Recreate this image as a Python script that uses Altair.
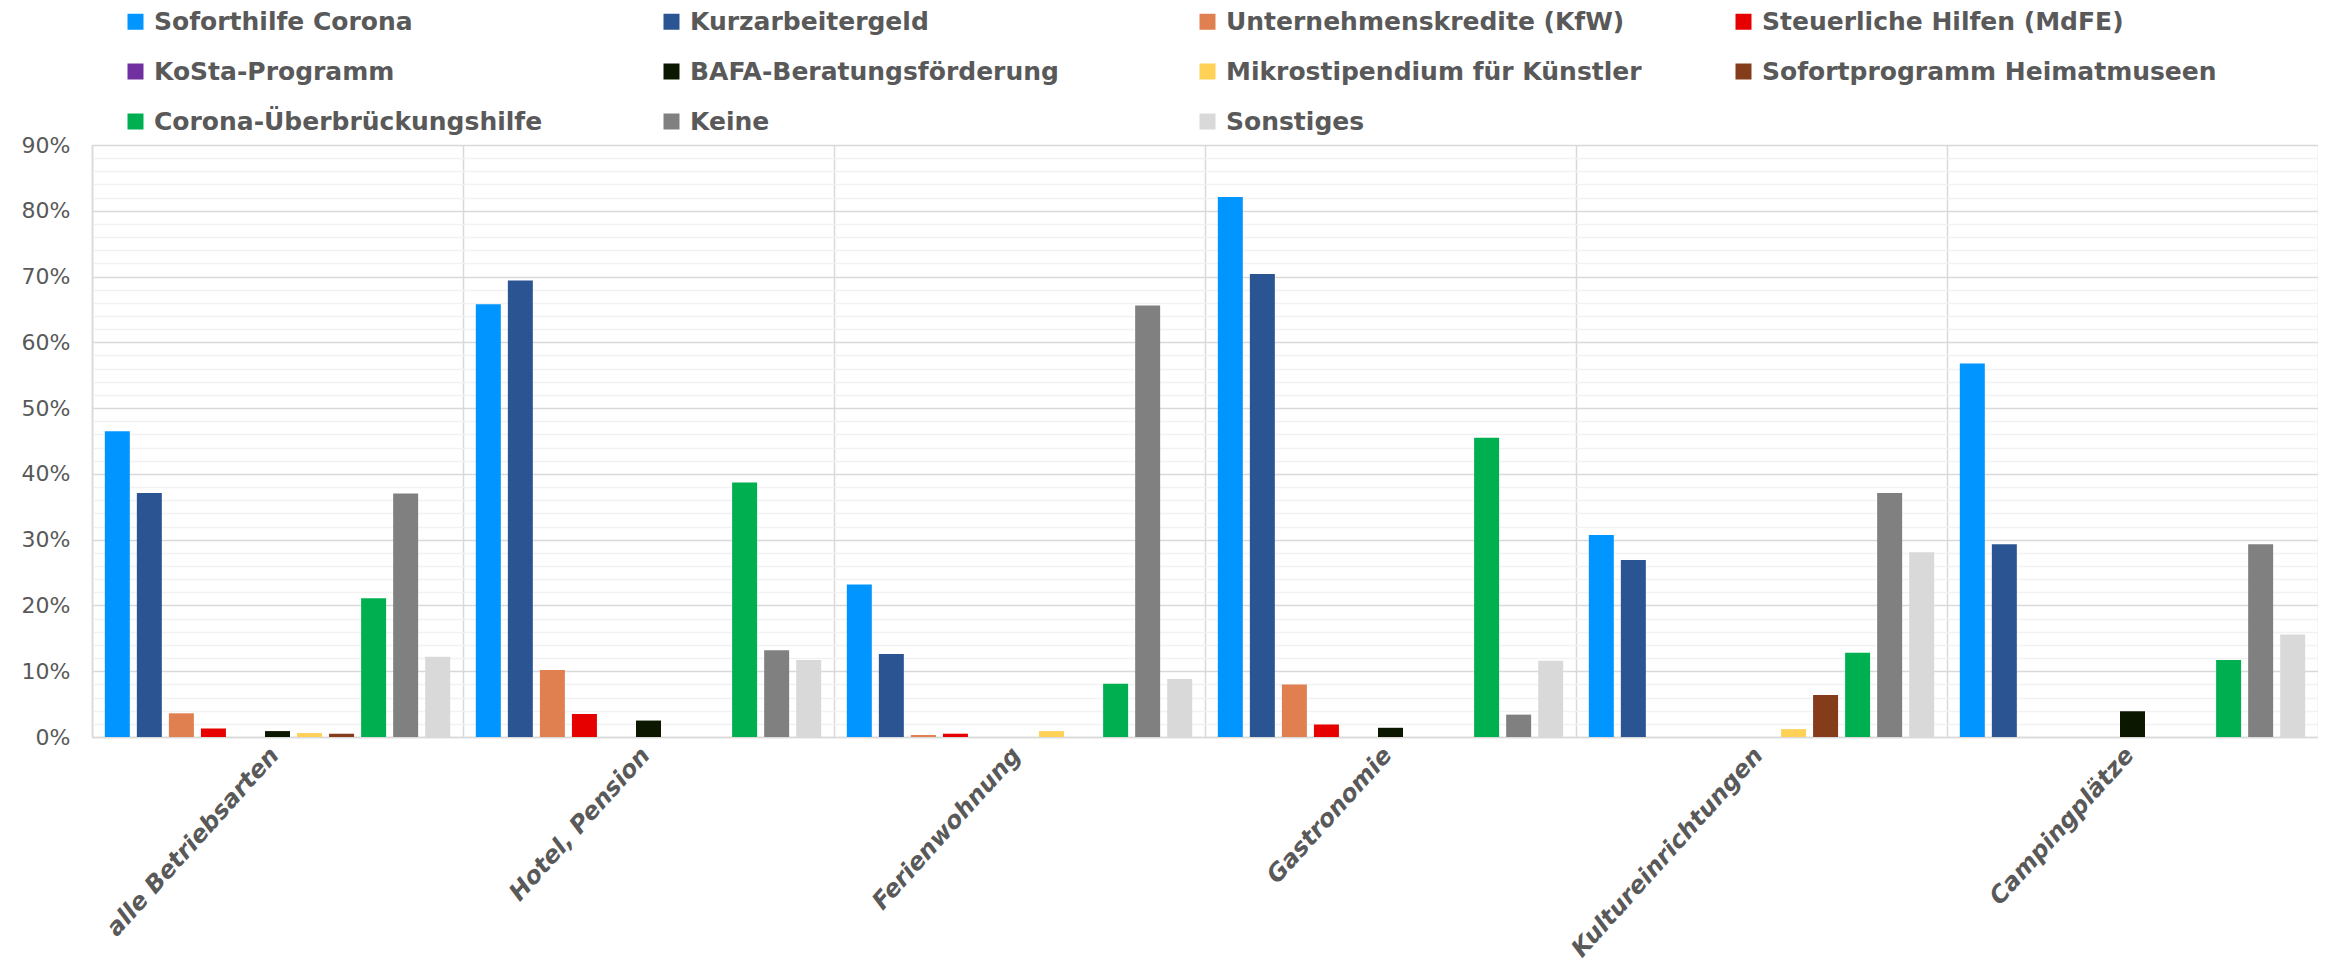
import altair as alt
import pandas as pd

categories = ["alle Betriebsarten", "Hotel, Pension", "Ferienwohnung",
              "Gastronomie", "Kultureinrichtungen", "Campingplätze"]

series = ["Soforthilfe Corona", "Kurzarbeitergeld", "Unternehmenskredite (KfW)",
          "Steuerliche Hilfen (MdFE)", "KoSta-Programm", "BAFA-Beratungsförderung",
          "Mikrostipendium für Künstler", "Sofortprogramm Heimatmuseen",
          "Corona-Überbrückungshilfe", "Keine", "Sonstiges"]

colors = ["#0095FF", "#2A5592", "#E07F50", "#E60000", "#7030A0", "#0C1700",
          "#FFD157", "#843C1A", "#00B050", "#808080", "#D9D9D9"]

# values in percent, one list per series (order = categories)
soforthilfe = [46.5, 65.8, 23.2, 82.1, 30.7, 56.8]
kurzarbeitergeld = [37.1, 69.4, 12.6, 70.4, 26.9, 29.3]
kfw = [3.6, 10.2, 0.3, 8.0, 0.0, 0.0]
mdfe = [1.3, 3.5, 0.5, 1.9, 0.0, 0.0]
kosta = [0.0, 0.0, 0.0, 0.0, 0.0, 0.0]
bafa = [0.9, 2.5, 0.0, 1.4, 0.0, 3.9]
mikro = [0.6, 0.0, 0.9, 0.0, 1.2, 0.0]
heimat = [0.5, 0.0, 0.0, 0.0, 6.4, 0.0]
ueberbrueckung = [21.1, 38.7, 8.1, 45.5, 12.8, 11.7]
keine = [37.0, 13.2, 65.6, 3.4, 37.1, 29.3]
sonstiges = [12.2, 11.7, 8.8, 11.6, 28.1, 15.6]

values_by_series = [soforthilfe, kurzarbeitergeld, kfw, mdfe, kosta, bafa,
                    mikro, heimat, ueberbrueckung, keine, sonstiges]

y_ticks = list(range(0, 91, 2))

rows = []
for s, vals in zip(series, values_by_series):
    for c, v in zip(categories, vals):
        rows.append({"Betriebsart": c, "Hilfe": s, "Anteil": v})
df = pd.DataFrame(rows)

TEXT = "#595959"
GRID = "#D9D9D9"
FONT = "DejaVu Sans"

chart = alt.Chart(df).mark_bar().encode(
    x=alt.X("Betriebsart:N", sort=categories,
            scale=alt.Scale(paddingInner=0, paddingOuter=0),
            axis=alt.Axis(title=None, tickBand="extent", grid=True,
                          gridColor=GRID, gridWidth=1.5, ticks=False,
                          domainColor=GRID, domainWidth=1.5,
                          labelAngle=-48, labelAlign="right", labelBaseline="top",
                          labelPadding=6, labelOffset=-12, labelFont=FONT,
                          labelFontSize=24, labelFontWeight="bold",
                          labelFontStyle="italic", labelColor=TEXT, labelLimit=600)),
    xOffset=alt.XOffset("Hilfe:N", sort=series,
                        scale=alt.Scale(paddingInner=0.22, paddingOuter=0.4)),
    y=alt.Y("Anteil:Q", scale=alt.Scale(domain=[0, 90], nice=False),
            axis=alt.Axis(title=None, values=y_ticks, ticks=False,
                          labelExpr="datum.value % 10 === 0 ? datum.value + '%' : ''",
                          labelOverlap=False,
                          gridColor={"condition": {"test": "datum.value % 10 === 0", "value": GRID},
                                     "value": "#F2F2F2"},
                          gridWidth=1.3,
                          domainColor=GRID, domainWidth=1.5,
                          labelPadding=22, labelFont=FONT, labelFontSize=22,
                          labelColor=TEXT)),
    color=alt.Color("Hilfe:N", sort=series,
                    scale=alt.Scale(domain=series, range=colors),
                    legend=alt.Legend(title=None, orient="none", legendX=31, legendY=-136,
                                      columns=4, gridAlign="all", columnPadding=50,
                                      rowPadding=24, direction="horizontal",
                                      symbolType="square", symbolSize=256,
                                      symbolStrokeWidth=0, labelFont=FONT,
                                      labelFontSize=25, labelFontWeight="bold",
                                      labelColor=TEXT, labelLimit=700, labelOffset=6,
                                      padding=0)),
).properties(
    width=2226,
    height=592,
    autosize=alt.AutoSizeParams(type="none"),
    padding={"left": 84, "top": 137, "right": 0, "bottom": 235},
).configure_view(
    stroke=GRID, strokeWidth=1.5
).configure(background="white")

chart.save("out.html", embed_options={"renderer": "svg", "actions": False})
